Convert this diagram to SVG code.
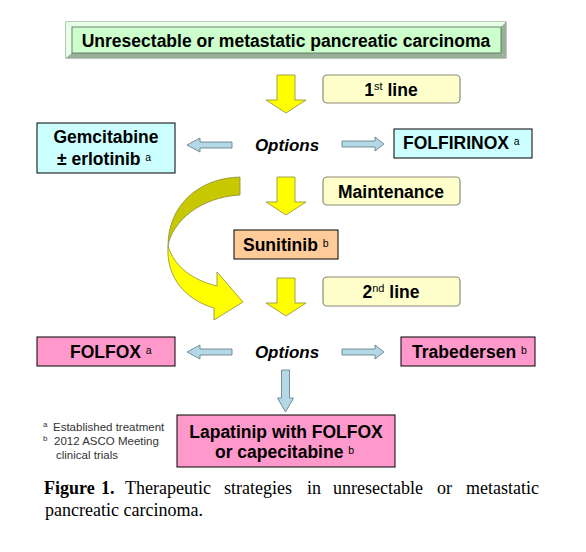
<svg xmlns="http://www.w3.org/2000/svg" width="586" height="552" viewBox="0 0 586 552">
<style>
.t{font-family:"Liberation Sans",Arial,sans-serif;font-weight:bold;font-size:17.5px;fill:#000}
.sup{font-family:"Liberation Sans",Arial,sans-serif;font-weight:normal;font-size:10.5px;fill:#000}
.opt{font-family:"Liberation Sans",Arial,sans-serif;font-weight:bold;font-style:italic;font-size:17px;fill:#000}
.fn{font-family:"Liberation Sans",Arial,sans-serif;font-size:11.5px;fill:#333}
.fns{font-family:"Liberation Sans",Arial,sans-serif;font-size:8px;fill:#333}
.cap{font-family:"Liberation Serif","Times New Roman",serif;font-size:18px;fill:#000}
.yb{fill:#ffffcc;stroke:#8a8a7a;stroke-width:1.2}
.cy{fill:#ccffff;stroke:#000;stroke-width:1}
.pk{fill:#ff99cc;stroke:#000;stroke-width:1}
.pe{fill:#ffcc99;stroke:#000;stroke-width:1}
.ya{fill:#ffff00;stroke:#8c8c3c;stroke-width:0.8}
.ba{fill:#b4d8e6;stroke:#5c7480;stroke-width:0.8}
</style>
<defs>
<path id="ydown" d="M-9,0 H9 V25 H20 L0,38 L-20,25 H-9 Z"/>
<path id="bleft" d="M0,0 L13,-7 V-3 H45 V3 H13 V7 Z"/>
<path id="bright" d="M0,-3 H33 V-7 L42,0 L33,7 V3 H0 Z"/>
<path id="bdown" d="M-4,0 H4 V28 H8 L0,42 L-8,28 H-4 Z"/>
</defs>
<rect width="586" height="552" fill="#fff"/>

<g id="title">
<rect x="66" y="22" width="440" height="36" fill="#ccffcc" stroke="#7a8a7a" stroke-width="1"/>
<polygon points="66,22 506,22 501,27 72,27" fill="#e6ffe6"/>
<polygon points="66,22 72,27 72,53 66,58" fill="#e6ffe6"/>
<polygon points="66,58 72,53 501,53 506,58" fill="#98b098"/>
<polygon points="506,22 501,27 501,53 506,58" fill="#98b098"/>
<rect x="72" y="27" width="429" height="26" fill="#ccffcc" stroke="#556655" stroke-width="0.8"/>
<text class="t" x="286" y="47" text-anchor="middle" font-size="18">Unresectable or metastatic pancreatic carcinoma</text>
</g>

<g id="connectors">
<use href="#ydown" class="ya" transform="translate(286,75)"/>
<use href="#ydown" class="ya" transform="translate(286,177)"/>
<use href="#ydown" class="ya" transform="translate(286,278)"/>
<use href="#bleft" class="ba" transform="translate(187,145)"/>
<use href="#bright" class="ba" transform="translate(342,144)"/>
<use href="#bleft" class="ba" transform="translate(187,352)"/>
<use href="#bright" class="ba" transform="translate(342,352)"/>
<use href="#bdown" class="ba" transform="translate(285.5,370)"/>
<path d="M240,177 C198,178 168,206 168,246 C172,222 200,197 240,195 Z" fill="#c8c800" stroke="#8c8c3c" stroke-width="0.8"/>
<path d="M168,246 C174,266 192,280 217,286 L217,272 L243,302 L214,320 L214,308 C186,300 166,278 168,246 Z" fill="#ffff00" stroke="#8c8c3c" stroke-width="0.8"/>
</g>

<g id="line1">
<rect class="yb" x="323" y="75" width="137" height="28" rx="4"/>
<text class="t" x="391" y="96" text-anchor="middle">1<tspan font-size="11" font-weight="normal" dy="-6">st</tspan><tspan dy="6"> line</tspan></text>
</g>

<g id="options1">
<text class="opt" x="287" y="151" text-anchor="middle">Options</text>
</g>

<g id="gemcitabine">
<rect class="cy" x="37" y="123" width="138" height="50"/>
<text class="t" x="106" y="143" text-anchor="middle">Gemcitabine</text>
<text class="t" x="57" y="165">± erlotinib <tspan class="sup" dy="-4">a</tspan></text>
</g>

<g id="folfirinox">
<rect class="cy" x="394" y="129" width="138" height="29"/>
<text class="t" x="403" y="149">FOLFIRINOX <tspan class="sup" dy="-4">a</tspan></text>
</g>

<g id="maintenance">
<rect class="yb" x="323" y="177" width="137" height="28" rx="4"/>
<text class="t" x="391" y="198" text-anchor="middle">Maintenance</text>
</g>

<g id="sunitinib">
<rect class="pe" x="234" y="230" width="104" height="29"/>
<text class="t" x="243" y="251">Sunitinib <tspan class="sup" dy="-4">b</tspan></text>
</g>

<g id="line2">
<rect class="yb" x="323" y="277" width="137" height="29" rx="4"/>
<text class="t" x="391" y="298" text-anchor="middle">2<tspan font-size="11" font-weight="normal" dy="-6">nd</tspan><tspan dy="6"> line</tspan></text>
</g>

<g id="options2">
<text class="opt" x="287" y="358" text-anchor="middle">Options</text>
</g>

<g id="folfox">
<rect class="pk" x="37" y="337" width="138" height="29"/>
<text class="t" x="70" y="358">FOLFOX <tspan class="sup" dy="-4">a</tspan></text>
</g>

<g id="trabedersen">
<rect class="pk" x="401" y="337" width="134" height="29"/>
<text class="t" x="412" y="358">Trabedersen <tspan class="sup" dy="-4">b</tspan></text>
</g>

<g id="lapatinip">
<rect class="pk" x="177" y="415" width="218" height="52"/>
<text class="t" x="286" y="438" text-anchor="middle" font-size="18">Lapatinip with FOLFOX</text>
<text class="t" x="215" y="458" font-size="18">or capecitabine <tspan class="sup" dy="-4">b</tspan></text>
</g>

<g id="footnotes">
<text class="fns" x="43" y="427">a</text>
<text class="fn" x="53" y="431">Established treatment</text>
<text class="fns" x="43" y="441">b</text>
<text class="fn" x="54" y="445">2012 ASCO Meeting</text>
<text class="fn" x="56" y="459">clinical trials</text>
</g>

<g id="caption">
<text class="cap" y="494"><tspan x="44" font-weight="bold">Figure</tspan><tspan x="101" font-weight="bold">1.</tspan><tspan x="125">Therapeutic</tspan><tspan x="224">strategies</tspan><tspan x="307">in</tspan><tspan x="333">unresectable</tspan><tspan x="437">or</tspan><tspan x="466">metastatic</tspan></text>
<text class="cap" x="45" y="516">pancreatic carcinoma.</text>
</g>
</svg>
